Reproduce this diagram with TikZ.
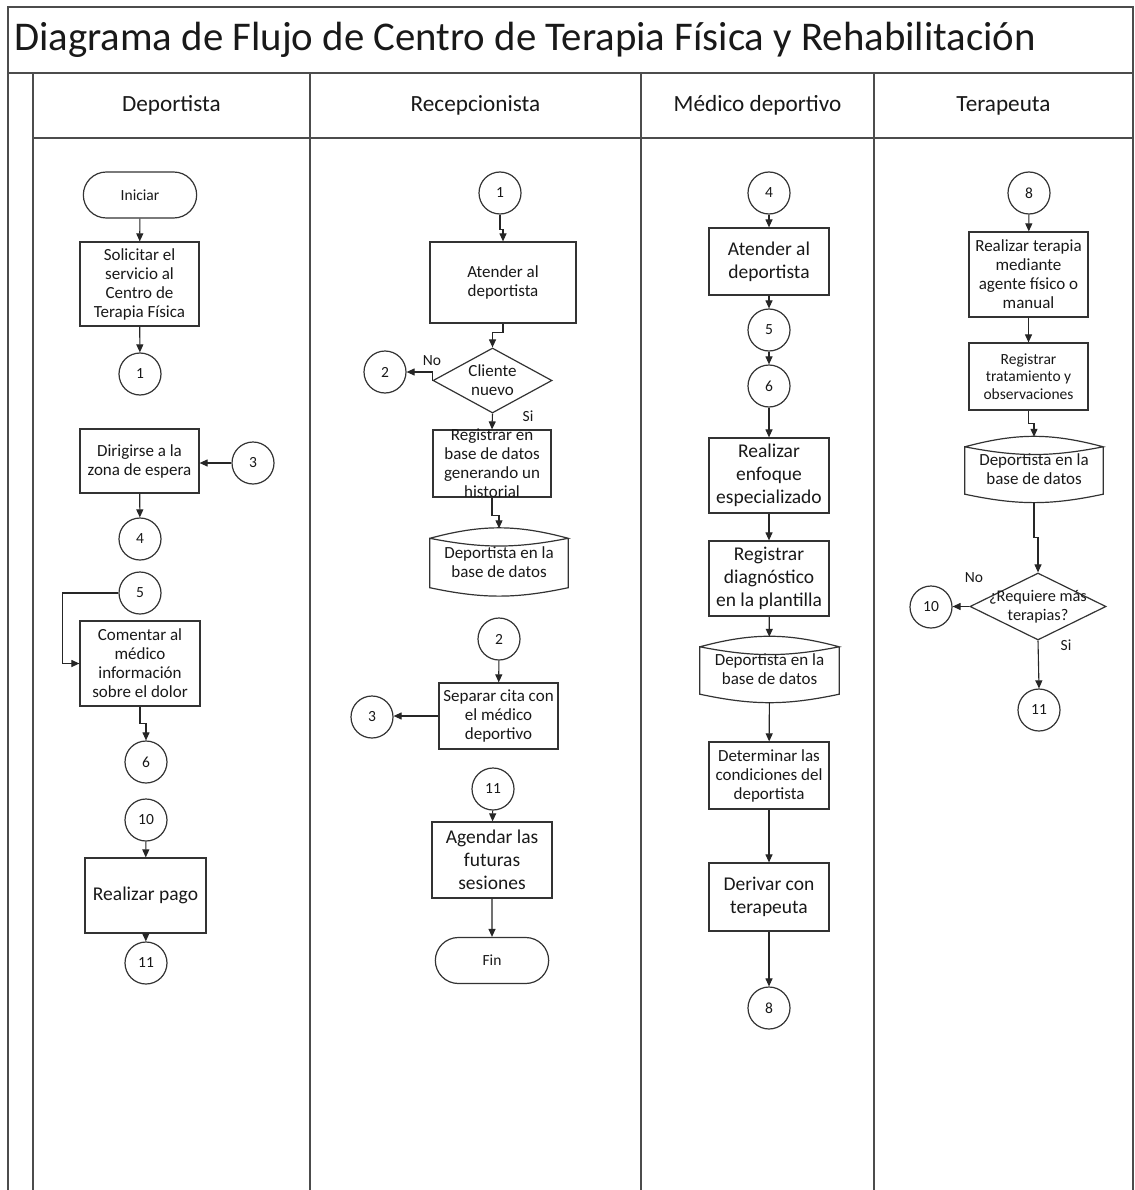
\documentclass[tikz,border=0pt]{standalone}
\usepackage{fontspec}
\setmainfont{Carlito}
\usetikzlibrary{arrows.meta,shapes.geometric,shapes.misc,calc}

% font sizes (size / baselineskip)
\newcommand\fsT{\fontsize{40.8}{48}\selectfont}
\newcommand\fsH{\fontsize{23.2}{27}\selectfont}
\newcommand\fsS{\fontsize{15.5}{17.5}\selectfont}
\newcommand\fsD{\fontsize{16.3}{18.5}\selectfont}
\newcommand\fsM{\fontsize{17}{19}\selectfont}
\newcommand\fsL{\fontsize{19.5}{23}\selectfont}

% outline of a stored-data (cylinder) symbol around a node
\newcommand\dbframe[1]{%
  \draw[shp] ([yshift=-10pt]#1.north west) to[out=15,in=165] ([yshift=-10pt]#1.north east)
        to[out=-169,in=-11] ([yshift=-10pt]#1.north west)
        -- ([yshift=8pt]#1.south west) to[out=-12,in=-168] ([yshift=8pt]#1.south east)
        -- ([yshift=-10pt]#1.north east);}

\tikzset{
  shp/.style={draw=black!80, line width=1.2pt, text=black!90},
  proc/.style={shp, rectangle, align=center, inner sep=1pt},
  term/.style={shp, rounded rectangle, minimum width=120pt, minimum height=46pt, font=\fsS},
  conn/.style={shp, circle, minimum size=42pt, inner sep=0pt, font=\fsS},
  dec/.style={shp, diamond, inner sep=0pt},
  db/.style={align=center, inner sep=0pt, text=black!90},
  txt/.style={align=center, inner sep=0pt, text=black!90},
  flow/.style={draw=black!85, line width=1.1pt, -{Triangle[length=8pt,width=7pt]}},
  lane/.style={draw=black!70, line width=1.5pt},
  hdr/.style={txt, anchor=base, font=\fsH},
}

\begin{document}
\begin{tikzpicture}[x=1pt,y=-1pt]
\useasboundingbox (0,0) rectangle (1134,1190);
\fill[white] (0,0) rectangle (1134,1190);

% pool frame, title band, lane header band and lanes
\draw[lane] (8,1190) -- (8,7) -- (1133,7) -- (1133,1190);
\draw[lane] (8,73) -- (1133,73);
\draw[lane] (33,138) -- (1133,138);
\foreach \x in {33,310,641,874} \draw[lane] (\x,73) -- (\x,1190);

\node[txt, anchor=base west, font=\fsT] (title) at (14,51) {Diagrama de Flujo de Centro de Terapia Física y Rehabilitación};

\node[hdr] (hdep) at (171.5,112) {Deportista};
\node[hdr] (hrec) at (475.5,112) {Recepcionista};
\node[hdr] (hmed) at (757.5,112) {Médico deportivo};
\node[hdr] (hter) at (1003.5,112) {Terapeuta};

% ---------------- Deportista ----------------
\node[term] (inicio) at (140,195) {Iniciar};
\node[proc, minimum width=119pt, minimum height=84pt, font=\fsM] (solic) at (139.5,284)
  {Solicitar el\\servicio al\\Centro de\\Terapia Física};
\node[conn] (d1) at (140,374) {1};
\node[proc, minimum width=119pt, minimum height=64pt, font=\fsM] (dirig) at (139.5,461)
  {Dirigirse a la\\zona de espera};
\node[conn] (d3) at (253,463) {3};
\node[conn] (d4) at (140,539) {4};
\node[conn] (d5) at (140,593) {5};
\node[proc, minimum width=120pt, minimum height=85pt, font=\fsM] (coment) at (140,663.5)
  {Comentar al\\médico\\información\\sobre el dolor};
\node[conn] (d6) at (146,762) {6};
\node[conn] (d10) at (146,820) {10};
\node[proc, minimum width=121pt, minimum height=75pt, font=\fsL] (pago) at (145.5,895.5) {Realizar pago};
\node[conn] (d11) at (146,963) {11};

\draw[flow] (inicio) -- (solic);
\draw[flow] (solic) -- (d1);
\draw[flow] (d3.west) -- (d3.west -| dirig.east);
\draw[flow] (dirig) -- (d4);
\draw[flow] (d5.west) -- ++(-56,0) |- (coment.west);
\draw[flow] (coment.south) -- ++(0,17) -| (d6.north);
\draw[flow] (d10) -- (pago);
\draw[flow] (pago) -- (d11);

% ---------------- Recepcionista ----------------
\node[conn] (r1) at (500,193) {1};
\node[proc, minimum width=146pt, minimum height=81pt, font=\fsM] (ratend) at (503,282.5)
  {Atender al\\deportista};
\node[dec, minimum width=119pt, minimum height=65pt] (rdec) at (492.5,380.5) {};
\node[txt, font=\fsM] (rdect) at (rdec.center) {Cliente\\nuevo};
\node[conn] (r2) at (385,372) {2};
\node[txt, font=\fsS] (rno) at (432,361) {No};
\node[txt, font=\fsS] (rsi) at (528,416) {Si};
\node[proc, minimum width=118pt, minimum height=67pt] (rreg) at (492,463.5) {};
\node[txt, font=\fsM] (rregt) at (rreg.center) {Registrar en\\base de datos\\generando un\\historial};
\node[db, minimum width=138pt, minimum height=67pt, font=\fsM] (rdb) at (499,562)
  {Deportista en la\\base de datos};
\dbframe{rdb}
\node[conn] (r2b) at (499,639) {2};
\node[proc, minimum width=119pt, minimum height=66pt, font=\fsM] (rsep) at (498.5,716)
  {Separar cita con\\el médico\\deportivo};
\node[conn] (r3) at (372,717) {3};
\node[conn] (r11) at (493,789) {11};
\node[proc, minimum width=120pt, minimum height=76pt, font=\fsL] (ragen) at (492,860)
  {Agendar las\\futuras\\sesiones};
\node[term] (fin) at (492,960.5) {Fin};

\draw[flow] (r1.south) -- ++(0,15) -| (ratend.north);
\draw[flow] (ratend.south) -- ++(0,9) -| (rdec.north);
\draw[flow] (rdec.west) |- (r2.east);
\draw[flow] (rdec.south) -- (rreg.north);
\draw[flow] (rreg.south) -- ++(0,18) -| (rdb.north);
\draw[flow] (r2b) -- (rsep);
\draw[flow] (rsep.west) -- (rsep.west -| r3.east);
\draw[flow] (r11) -- (ragen);
\draw[flow] (ragen) -- (fin);

% ---------------- Médico deportivo ----------------
\node[conn] (m4) at (769,193) {4};
\node[proc, minimum width=120pt, minimum height=67pt, font=\fsL] (matend) at (769,261.5)
  {Atender al\\deportista};
\node[conn] (m5) at (769,330) {5};
\node[conn] (m6) at (769,386) {6};
\node[proc, minimum width=120pt, minimum height=75pt, font=\fsL] (menf) at (769,475.5)
  {Realizar\\enfoque\\especializado};
\node[proc, minimum width=120pt, minimum height=75pt, font=\fsL] (mdiag) at (769,578.5)
  {Registrar\\diagnóstico\\en la plantilla};
\node[db, minimum width=139pt, minimum height=65pt, font=\fsM] (mdb) at (769.5,669.5)
  {Deportista en la\\base de datos};
\dbframe{mdb}
\node[proc, minimum width=120pt, minimum height=67pt, font=\fsM] (mdet) at (769,775.5)
  {Determinar las\\condiciones del\\deportista};
\node[proc, minimum width=120pt, minimum height=68pt, font=\fsL] (mderiv) at (769,897)
  {Derivar con\\terapeuta};
\node[conn] (m8) at (769,1008) {8};

\draw[flow] (m4) -- (matend);
\draw[flow] (matend) -- (m5);
\draw[flow] (m5) -- (m6);
\draw[flow] (m6) -- (menf);
\draw[flow] (menf) -- (mdiag);
\draw[flow] (mdiag) -- (mdb);
\draw[flow] (mdb) -- (mdet);
\draw[flow] (mdet) -- (mderiv);
\draw[flow] (mderiv) -- (m8);

% ---------------- Terapeuta ----------------
\node[conn] (t8) at (1029,193) {8};
\node[proc, minimum width=119pt, minimum height=85pt, font=\fsM] (tter) at (1028.5,274.5)
  {Realizar terapia\\mediante\\agente físico o\\manual};
\node[proc, minimum width=119pt, minimum height=67pt, font=\fsS] (treg) at (1028.5,376.5)
  {Registrar\\tratamiento y\\observaciones};
\node[db, minimum width=138pt, minimum height=65pt, font=\fsM] (tdb) at (1034,469.5)
  {Deportista en la\\base de datos};
\dbframe{tdb}
\node[dec, minimum width=136pt, minimum height=67pt] (tdec) at (1038,606.5) {};
\node[txt, font=\fsD] (tdect) at (tdec.center) {¿Requiere más\\terapias?};
\node[conn] (t10) at (931,607) {10};
\node[conn] (t11) at (1039,710) {11};
\node[txt, font=\fsS] (tno) at (974,578) {No};
\node[txt, font=\fsS] (tsi) at (1066,645) {Si};

\draw[flow] (t8) -- (tter);
\draw[flow] (tter) -- (treg);
\draw[flow] (treg.south) -- ++(0,13) -| (tdb.north);
\draw[flow] (tdb.south) -- ++(0,35) -| (tdec.north);
\draw[flow] (tdec.west) -- (tdec.west -| t10.east);
\draw[flow] (tdec.south) -- (t11.north);
\end{tikzpicture}
\end{document}
